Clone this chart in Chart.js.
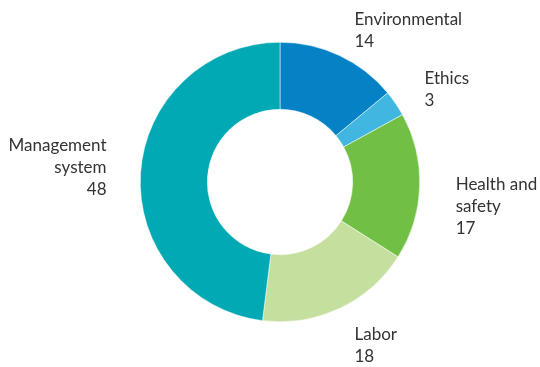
<!DOCTYPE html>
<html>
<head>
<meta charset="utf-8">
<script src="https://cdn.jsdelivr.net/npm/chart.js@4/dist/chart.umd.min.js"></script>
<style>
  html, body { margin: 0; padding: 0; background: #fff; }
  #wrap { width: 540px; height: 367px; position: relative; }
</style>
</head>
<body>
<div id="wrap"><canvas id="chart"></canvas></div>
<script>
const categories = ["Environmental", "Ethics", "Health and safety", "Labor", "Management system"];
const labelLines = [["Environmental"], ["Ethics"], ["Health and", "safety"], ["Labor"], ["Management", "system"]];
const values = [14, 3, 17, 18, 48];
const colors = ["#0581c5", "#40b6e0", "#72bf45", "#c5df9e", "#00a9b4"];

// label placement relative to the outer midpoint of each slice
const labelOffsets = [
  { dx: 15, dy: -31, align: "left" },
  { dx: 29, dy: -19, align: "left" },
  { dx: 36, dy: 4, align: "left" },
  { dx: 15, dy: 32, align: "left" },
  { dx: -34, dy: -22, align: "right" },
];

const sliceLabels = {
  id: "sliceLabels",
  afterDatasetsDraw(chart) {
    const ctx = chart.ctx;
    const meta = chart.getDatasetMeta(0);
    ctx.save();
    ctx.font = "17px Lato";
    ctx.fillStyle = "#333";
    ctx.textBaseline = "alphabetic";
    meta.data.forEach((arc, i) => {
      const mid = (arc.startAngle + arc.endAngle) / 2;
      const ax = arc.x + Math.cos(mid) * arc.outerRadius;
      const ay = arc.y + Math.sin(mid) * arc.outerRadius;
      const o = labelOffsets[i];
      ctx.textAlign = o.align;
      const lines = labelLines[i].concat(String(values[i]));
      lines.forEach((t, j) => {
        ctx.fillText(t, ax + o.dx, ay + o.dy + j * 22);
      });
    });
    ctx.restore();
  },
};

new Chart(document.getElementById("chart"), {
  type: "doughnut",
  data: {
    labels: categories,
    datasets: [{
      data: values,
      backgroundColor: colors,
      borderColor: "#fff",
      borderWidth: 0.5,
    }],
  },
  options: {
    responsive: true,
    maintainAspectRatio: false,
    animation: false,
    cutout: "52%",
    layout: { padding: { left: 140, right: 120, top: 42, bottom: 45 } },
    plugins: { legend: { display: false }, tooltip: { enabled: false } },
  },
  plugins: [sliceLabels],
});
</script>
</body>
</html>
